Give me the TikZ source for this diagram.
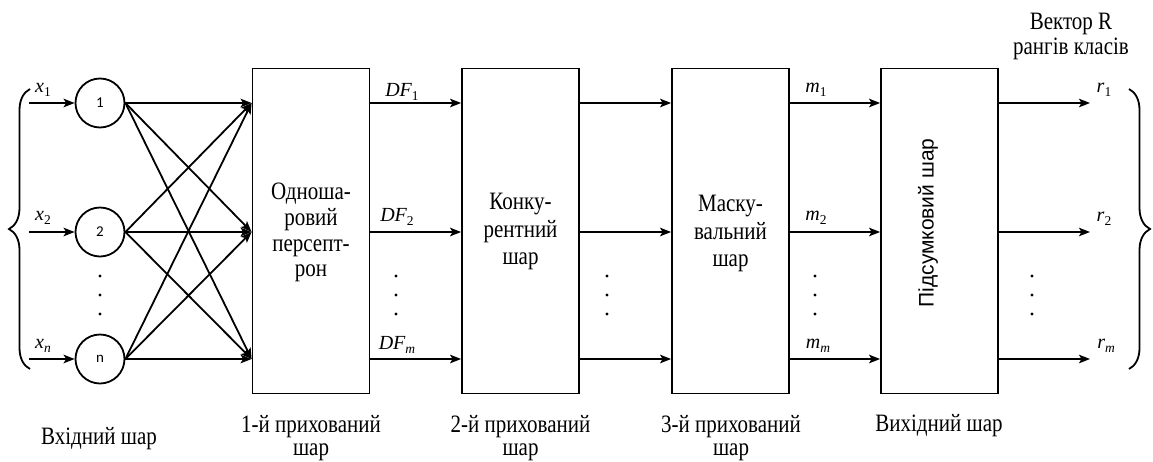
\documentclass[tikz,border=0pt]{standalone}
\usepackage{fontspec}
\setmainfont[FakeStretch=0.84]{Liberation Serif}
\newfontfamily\labf{Liberation Serif}
\newfontfamily\sansf{Liberation Sans}
\newfontfamily\numf{Carlito}
\usetikzlibrary{arrows.meta,decorations.pathreplacing}
\newcommand{\lab}[2]{{\itshape #1}\raisebox{-4.5pt}{\fontsize{13.5}{14}\selectfont #2}}
\begin{document}
\begin{tikzpicture}[x=1pt,y=-1pt,
  lw/.style={line width=1.8pt},
  arr/.style={lw,-{Stealth[length=11pt,width=8.5pt,inset=2.5pt]}},
  layerbox/.style={draw,lw,minimum width=117pt,minimum height=325pt,inner sep=0pt},
  boxtext/.style={inner sep=0pt,align=center},
  neuron/.style={draw,circle,lw,minimum size=49pt,inner sep=0pt,font=\numf\fontsize{15}{16}\selectfont},
  mathlab/.style={inner sep=0pt,font=\labf\fontsize{20}{22}\selectfont},
  caption/.style={inner sep=0pt,align=center,font=\fontsize{25}{23}\selectfont},
  brace/.style={lw,decorate,decoration={brace,amplitude=21pt,aspect=0.5}}]
\useasboundingbox (0,0) rectangle (1153,461);
% row coordinates
\coordinate (A) at (0,103);
\coordinate (B) at (0,232);
\coordinate (C) at (0,359);
% neurons
\node[neuron] (n1) at (100,103) {1};
\node[neuron] (n2) at (100,232) {2};
\node[neuron] (n3) at (100,359) {n};
% input free ends
\coordinate (i1) at (29,103);
\coordinate (i2) at (29,232);
\coordinate (i3) at (29,359);
\draw[arr] (i1) -- (n1);
\draw[arr] (i2) -- (n2);
\draw[arr] (i3) -- (n3);
\node[mathlab] (lx1) at (43,90) {\lab{x}{1}};
\node[mathlab] (lx2) at (43,218) {\lab{x}{2}};
\node[mathlab] (lx3) at (43,346) {\lab{x}{\itshape n}};
% boxes
\node[layerbox] (b1) at (311,231) {};
\node[layerbox] (b2) at (520.5,231) {};
\node[layerbox] (b3) at (730.5,231) {};
\node[layerbox] (b4) at (939.5,231) {};
\node[boxtext,anchor=north,font=\fontsize{25}{25.7}\selectfont] (t1) at (311,183) {Одноша-\\ровий\\персепт-\\рон};
\node[boxtext,anchor=north,font=\fontsize{25}{27.5}\selectfont] (t2) at (520.5,193) {Конку-\\рентний\\шар};
\node[boxtext,anchor=north,font=\fontsize{25}{27.5}\selectfont] (t3) at (730.5,195) {Маску-\\вальний\\шар};
\node[inner sep=0pt,rotate=90,font=\sansf\fontsize{21}{22}\selectfont] (t4) at (928,223) {Підсумковий шар};
% cross connections
\foreach \s in {n1,n2,n3}
  \foreach \t in {A,B,C}
    \draw[arr] (\s.east) -- (b1.west |- \t);
% between boxes
\foreach \t in {A,B,C} {
  \draw[arr] (b1.east |- \t) -- (b2.west |- \t);
  \draw[arr] (b2.east |- \t) -- (b3.west |- \t);
  \draw[arr] (b3.east |- \t) -- (b4.west |- \t);
}
% outputs
\coordinate (o1) at (1090,103);
\coordinate (o2) at (1090,232);
\coordinate (o3) at (1090,359);
\draw[arr] (b4.east |- A) -- (o1);
\draw[arr] (b4.east |- B) -- (o2);
\draw[arr] (b4.east |- C) -- (o3);
% labels
\node[mathlab] (df1) at (402,92) {\lab{DF}{1}};
\node[mathlab] (df2) at (397,217) {\lab{DF}{2}};
\node[mathlab] (dfm) at (397,345) {\lab{DF}{\itshape m}};
\node[mathlab] (m1) at (816,90) {\lab{m}{1}};
\node[mathlab] (m2) at (816,218) {\lab{m}{2}};
\node[mathlab] (mm) at (818,346) {\lab{m}{\itshape m}};
\node[mathlab] (r1) at (1104,90) {\lab{r}{1}};
\node[mathlab] (r2) at (1104,219) {\lab{r}{2}};
\node[mathlab] (rm) at (1106,346) {\lab{r}{\itshape m}};
% dots
\foreach \x in {100,396,607,815,1032}
  \foreach \y in {276,295,314}
    \fill (\x,\y) circle[radius=1.7pt];
% braces
\coordinate (lbT) at (30,89);
\coordinate (lbB) at (30,369);
\draw[brace] (lbB) -- (lbT);
\coordinate (rbT) at (1129,89);
\coordinate (rbB) at (1129,369);
\draw[brace] (rbT) -- (rbB);
% captions
\node[caption,anchor=base] (c0) at (99,444) {Вхідний шар};
\node[caption,anchor=north] (c1) at (311,415) {1-й прихований\\шар};
\node[caption,anchor=north] (c2) at (520.5,415) {2-й прихований\\шар};
\node[caption,anchor=north] (c3) at (731,415) {3-й прихований\\шар};
\node[caption,anchor=base] (c4) at (939,431) {Вихідний шар};
\node[caption,anchor=north,font=\fontsize{25}{25}\selectfont] (top) at (1071,13) {Вектор R\\рангів класів};
\end{tikzpicture}
\end{document}
